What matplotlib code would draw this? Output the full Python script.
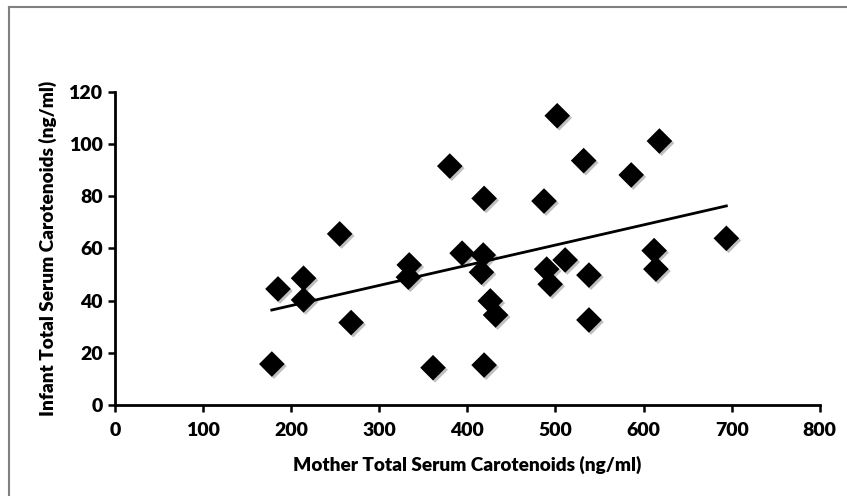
import numpy as np
import matplotlib
matplotlib.use("Agg")
import matplotlib.pyplot as plt
import matplotlib.patheffects as pe
from matplotlib.lines import Line2D

# Data
mother = [178, 185, 214, 214, 255, 268, 334, 333, 361, 380, 394, 419, 418, 416,
          426, 432, 419, 502, 487, 490, 494, 511, 532, 538, 538, 586, 618, 612,
          614, 694]
infant = [15.7, 44.5, 48.6, 40.3, 65.6, 31.6, 53.7, 49.0, 14.3, 91.6, 58.2, 79.2,
          57.5, 50.9, 39.9, 34.5, 15.3, 110.9, 78.2, 52.1, 46.3, 55.6, 93.7, 49.8,
          32.6, 88.2, 101.2, 59.2, 52.1, 63.9]
x_ticks = [0, 100, 200, 300, 400, 500, 600, 700, 800]
y_ticks = [0, 20, 40, 60, 80, 100, 120]

plt.rcParams['font.family'] = ['Lato', 'DejaVu Sans']
plt.rcParams['font.weight'] = 'bold'

fig = plt.figure(figsize=(8.47, 4.96), dpi=100)
fig.patch.set_facecolor('white')
ax = fig.add_axes([0.1358, 0.1835, 0.832, 0.631])

shadow = [pe.SimplePatchShadow(offset=(1.5, -1.5), alpha=0.25), pe.Normal()]
ax.scatter(mother, infant, marker='D', s=170, color='black', zorder=3,
           linewidths=0, path_effects=shadow)

# linear trend line
slope, intercept = np.polyfit(mother, infant, 1)
xs = np.array([min(mother), max(mother)])
ax.plot(xs, slope * xs + intercept, color='black', lw=2, zorder=2)

ax.set_xlim(0, 800)
ax.set_ylim(0, 120)
ax.set_xticks(x_ticks)
ax.set_yticks(y_ticks)
ax.tick_params(axis='both', direction='out', length=5, width=1.8,
               labelsize=14, color='black')
ax.tick_params(axis='x', pad=7)
ax.tick_params(axis='y', pad=4)
for lab in ax.get_xticklabels() + ax.get_yticklabels():
    lab.set_fontweight('heavy')

for side in ['top', 'right']:
    ax.spines[side].set_visible(False)
for side in ['left', 'bottom']:
    ax.spines[side].set_linewidth(2)

ax.set_xlabel('Mother Total Serum Carotenoids (ng/ml)', fontsize=13.7,
              fontweight='heavy', labelpad=12)
ax.set_ylabel('Infant Total Serum Carotenoids (ng/ml)', fontsize=13.7,
              fontweight='heavy', labelpad=8)

# outer frame of the chart area
fig.add_artist(Line2D([9 / 847, 1], [1 - 7 / 496, 1 - 7 / 496],
                      transform=fig.transFigure, color='#808080', lw=1.5))
fig.add_artist(Line2D([9 / 847, 9 / 847], [0, 1 - 7 / 496],
                      transform=fig.transFigure, color='#808080', lw=1.5))

fig.savefig('out.png', dpi=100, facecolor='white')
